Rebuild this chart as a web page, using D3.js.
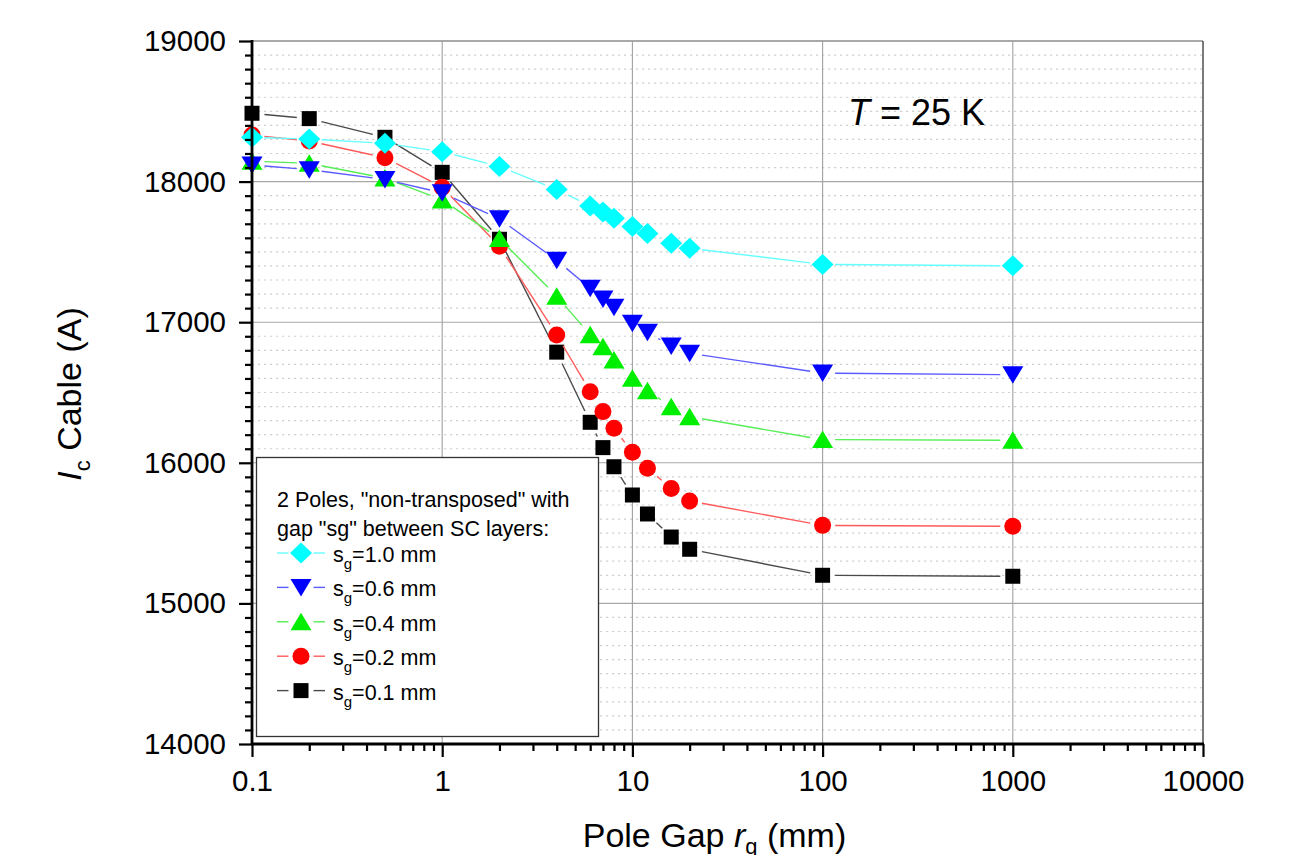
<!DOCTYPE html>
<html>
<head>
<meta charset="utf-8">
<script src="https://cdn.jsdelivr.net/npm/d3@7"></script>
<style>
  html, body { margin: 0; padding: 0; background: #fff; }
  svg { display: block; font-family: "Liberation Sans", Arial, sans-serif; }
</style>
</head>
<body>
<svg id="chart" width="1309" height="855"></svg>
<script>
// Pole gap r_g (mm)
const poleGap = [0.1, 0.2, 0.5, 1, 2, 4, 6, 7, 8, 10, 12, 16, 20, 100, 1000];

// Critical cable current I_c (A) for each SC-layer gap s_g
const icSg10 = [18315, 18303, 18272, 18213, 18107, 17943, 17827, 17784, 17739, 17680, 17630, 17562, 17526, 17411, 17401];
const icSg06 = [18118, 18085, 18015, 17920, 17735, 17440, 17241, 17165, 17106, 16992, 16928, 16831, 16779, 16638, 16626];
const icSg04 = [18145, 18130, 18025, 17870, 17595, 17185, 16910, 16826, 16731, 16601, 16513, 16399, 16328, 16165, 16160];
const icSg02 = [18331, 18288, 18170, 17960, 17540, 16909, 16506, 16364, 16245, 16075, 15961, 15818, 15728, 15555, 15548];
const icSg01 = [18486, 18448, 18315, 18066, 17590, 16787, 16288, 16108, 15972, 15771, 15636, 15472, 15385, 15200, 15193];

const seriesLabels = ["1.0", "0.6", "0.4", "0.2", "0.1"];

// Axis ticks
const xMajorTicks = [0.1, 1, 10, 100, 1000, 10000];
const yMajorTicks = [14000, 15000, 16000, 17000, 18000, 19000];

const svg = d3.select("#chart");
const margin = { left: 252, right: 1203, top: 41, bottom: 744 };

const x = d3.scaleLog().domain([0.1, 10000]).range([margin.left, margin.right]);
const y = d3.scaleLinear().domain([14000, 19000]).range([margin.bottom, margin.top]);

const xMinorTicks = [];
for (let d = 0.1; d < 10000; d *= 10) {
  for (let k = 2; k <= 9; k++) xMinorTicks.push(+(d * k).toPrecision(3));
}
const yMinorTicks = d3.range(14000, 19001, 100).filter(v => v % 1000 !== 0);

// ---- grid ----
const grid = svg.append("g");
grid.selectAll("line.minor-h").data(yMinorTicks).join("line")
  .attr("x1", margin.left).attr("x2", margin.right)
  .attr("y1", d => y(d)).attr("y2", d => y(d))
  .attr("stroke", "#cfcfcf").attr("stroke-width", 1.2)
  .attr("stroke-dasharray", "2.2,3.8");
grid.selectAll("line.major-h").data(yMajorTicks.filter(v => v > 14000)).join("line")
  .attr("x1", margin.left).attr("x2", margin.right)
  .attr("y1", d => y(d)).attr("y2", d => y(d))
  .attr("stroke", d => d === 19000 ? "#8c8c8c" : "#a8a8a8")
  .attr("stroke-width", d => d === 19000 ? 1.6 : 1.1);
grid.selectAll("line.major-v").data(xMajorTicks.filter(v => v > 0.1 && v < 10000)).join("line")
  .attr("x1", d => x(d)).attr("x2", d => x(d))
  .attr("y1", margin.top).attr("y2", margin.bottom)
  .attr("stroke", "#a0a0a0").attr("stroke-width", 1.1);
// right frame
svg.append("line")
  .attr("x1", margin.right).attr("x2", margin.right)
  .attr("y1", margin.top).attr("y2", margin.bottom)
  .attr("stroke", "#222").attr("stroke-width", 1.2);

// ---- markers ----
function markerPath(shape) {
  switch (shape) {
    case "diamond": return "M0,-10.5L11,0L0,10.5L-11,0Z";
    case "down": return "M-10.5,-8.5L10.5,-8.5L0,9Z";
    case "up": return "M-10.5,8.5L10.5,8.5L0,-9Z";
    case "circle": return "M8.5,0A8.5,8.5 0 1,1 -8.5,0A8.5,8.5 0 1,1 8.5,0Z";
    case "square": return "M-7.5,-7.5H7.5V7.5H-7.5Z";
  }
}

const series = [
  { label: seriesLabels[4], values: icSg01, shape: "square",  fill: "#000000", line: "#4a4a4a" },
  { label: seriesLabels[3], values: icSg02, shape: "circle",  fill: "#ff0000", line: "#ff5a5a" },
  { label: seriesLabels[2], values: icSg04, shape: "up",      fill: "#00ee00", line: "#55ee55" },
  { label: seriesLabels[1], values: icSg06, shape: "down",    fill: "#0000ff", line: "#5a5aff" },
  { label: seriesLabels[0], values: icSg10, shape: "diamond", fill: "#00ffff", line: "#66ffff" }
];

// connecting lines stop short of each symbol
const GAP = 12.5;
function gappedSegments(pts) {
  const segs = [];
  for (let i = 0; i < pts.length - 1; i++) {
    const [x1, y1] = pts[i], [x2, y2] = pts[i + 1];
    const dx = x2 - x1, dy = y2 - y1, len = Math.hypot(dx, dy);
    if (len <= 2 * GAP + 0.5) continue;
    const ux = dx / len, uy = dy / len;
    segs.push([x1 + ux * GAP, y1 + uy * GAP, x2 - ux * GAP, y2 - uy * GAP]);
  }
  return segs;
}

const plot = svg.append("g");
series.forEach(s => {
  const pts = poleGap.map((g, i) => [x(g), y(s.values[i])]);
  const g = plot.append("g");
  g.selectAll("line").data(gappedSegments(pts)).join("line")
    .attr("x1", d => d[0]).attr("y1", d => d[1])
    .attr("x2", d => d[2]).attr("y2", d => d[3])
    .attr("stroke", s.line).attr("stroke-width", 1.4);
  g.selectAll("path").data(pts).join("path")
    .attr("transform", d => `translate(${d[0]},${d[1]})`)
    .attr("d", markerPath(s.shape))
    .attr("fill", s.fill);
});

// ---- axes ----
const axisFont = 29.5;
const yAxis = svg.append("g").attr("transform", `translate(${margin.left},0)`);
yAxis.call(d3.axisLeft(y).tickValues(yMinorTicks).tickSize(7).tickFormat(""));
yAxis.call(g => g.append("g").call(d3.axisLeft(y).tickValues(yMajorTicks).tickSize(13).tickPadding(13).tickFormat(d3.format("d"))));
yAxis.selectAll("path.domain").remove();
yAxis.selectAll("line").attr("stroke", "#000").attr("stroke-width", 2.2);
yAxis.selectAll("text").attr("font-size", axisFont).attr("fill", "#000")
  .attr("font-family", "'Liberation Sans', Arial, sans-serif");
yAxis.append("line").attr("x1", 0).attr("x2", 0)
  .attr("y1", margin.top - 1).attr("y2", margin.bottom + 1)
  .attr("stroke", "#000").attr("stroke-width", 2.8);

const xAxis = svg.append("g").attr("transform", `translate(0,${margin.bottom})`);
xAxis.call(d3.axisBottom(x).tickValues(xMinorTicks).tickSize(7).tickFormat(""));
xAxis.call(g => g.append("g").call(d3.axisBottom(x).tickValues(xMajorTicks).tickSize(13).tickPadding(13)
  .tickFormat(d => d < 1 ? "0.1" : d3.format("d")(d))));
xAxis.selectAll("path.domain").remove();
xAxis.selectAll("line").attr("stroke", "#000").attr("stroke-width", 2.2);
xAxis.selectAll("text").attr("font-size", axisFont).attr("fill", "#000")
  .attr("font-family", "'Liberation Sans', Arial, sans-serif");
xAxis.append("line").attr("x1", margin.left - 1).attr("x2", margin.right + 1)
  .attr("y1", 0).attr("y2", 0)
  .attr("stroke", "#000").attr("stroke-width", 2.8);

// ---- axis titles ----
const titleFont = 34;
const xt = svg.append("text")
  .attr("x", (margin.left + margin.right) / 2 - 13).attr("y", 847)
  .attr("text-anchor", "middle").attr("font-size", titleFont).attr("fill", "#000");
xt.append("tspan").text("Pole Gap ");
xt.append("tspan").attr("font-style", "italic").text("r");
xt.append("tspan").attr("font-size", 22).attr("dy", 7).text("g");
xt.append("tspan").attr("dy", -7).text(" (mm)");

const yt = svg.append("text")
  .attr("transform", "translate(81,394) rotate(-90)")
  .attr("text-anchor", "middle").attr("font-size", titleFont).attr("fill", "#000");
yt.append("tspan").attr("font-style", "italic").text("I");
yt.append("tspan").attr("font-size", 22).attr("dy", 9).text("c");
yt.append("tspan").attr("dy", -9).text(" Cable (A)");

// ---- annotation ----
const ann = svg.append("text").attr("x", 848).attr("y", 125)
  .attr("font-size", 36).attr("fill", "#000");
ann.append("tspan").attr("font-style", "italic").text("T");
ann.append("tspan").text(" = 25 K");

// ---- legend ----
const legend = svg.append("g");
legend.append("rect")
  .attr("x", 256.5).attr("y", 457.5).attr("width", 342).attr("height", 279)
  .attr("fill", "#fff").attr("stroke", "#333").attr("stroke-width", 1.3);
const legFont = 21.5;
legend.append("text").attr("x", 277).attr("y", 507).attr("font-size", legFont)
  .text("2 Poles, \"non-transposed\" with");
legend.append("text").attr("x", 277).attr("y", 536).attr("font-size", legFont)
  .text("gap \"sg\" between SC layers:");

const legendOrder = series.slice().reverse();
legendOrder.forEach((s, i) => {
  const cy = 553 + i * 34.4;
  const cx = 301;
  const row = legend.append("g");
  row.append("line").attr("x1", 277).attr("x2", cx - GAP).attr("y1", cy).attr("y2", cy)
    .attr("stroke", s.line).attr("stroke-width", 1.4);
  row.append("line").attr("x1", cx + GAP).attr("x2", 325).attr("y1", cy).attr("y2", cy)
    .attr("stroke", s.line).attr("stroke-width", 1.4);
  row.append("path").attr("transform", `translate(${cx},${cy})`)
    .attr("d", markerPath(s.shape)).attr("fill", s.fill);
  const t = row.append("text").attr("x", 333).attr("y", cy + 9).attr("font-size", legFont);
  t.append("tspan").text("s");
  t.append("tspan").attr("font-size", 15).attr("dy", 7).text("g");
  t.append("tspan").attr("dy", -7).text(`=${s.label} mm`);
});
</script>
</body>
</html>
